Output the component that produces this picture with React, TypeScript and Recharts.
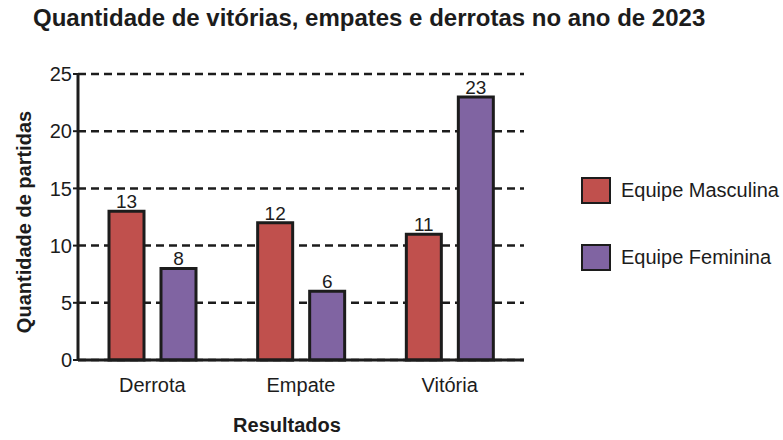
import { Bar, BarChart, CartesianGrid, LabelList, XAxis, YAxis } from 'recharts';

const categories = ['Derrota', 'Empate', 'Vitória'];
const masculina = [13, 12, 11];
const feminina = [8, 6, 23];
const yTicks = [0, 5, 10, 15, 20, 25];

const SERIES = [
  { key: 'masculina', name: 'Equipe Masculina', color: '#C0504D' },
  { key: 'feminina', name: 'Equipe Feminina', color: '#8064A2' },
];

const FONT = '"Liberation Sans", Arial, sans-serif';
const INK = '#1c1c1c';

const data = categories.map((c, i) => ({
  categoria: c,
  masculina: masculina[i],
  feminina: feminina[i],
}));

const YLabel = () => (
  <text
    x={24}
    y={222}
    transform="rotate(-90 24 222)"
    textAnchor="middle"
    dominantBaseline="central"
    fontFamily={FONT}
    fontWeight="bold"
    fontSize={20}
    fill={INK}
  >
    Quantidade de partidas
  </text>
);

const XLabel = () => (
  <text x={287} y={432} textAnchor="middle" fontFamily={FONT} fontWeight="bold" fontSize={20} fill={INK}>
    Resultados
  </text>
);

export default function App() {
  return (
    <div style={{ position: 'absolute', left: 0, top: 0, width: 783, height: 440, background: '#fff', fontFamily: FONT }}>
      <div
        style={{
          position: 'absolute',
          left: 33,
          top: 4,
          fontSize: 24,
          fontWeight: 'bold',
          color: INK,
          whiteSpace: 'nowrap',
        }}
      >
        Quantidade de vitórias, empates e derrotas no ano de 2023
      </div>
      <BarChart
        width={783}
        height={440}
        data={data}
        margin={{ top: 74, right: 259, left: 18, bottom: 30 }}
        barSize={35}
        barGap={17}
      >
        <CartesianGrid vertical={false} stroke={INK} strokeWidth={2.5} strokeDasharray="8 5" />
        <XAxis
          dataKey="categoria"
          height={50}
          tickSize={0}
          tickLine={false}
          tickMargin={18}
          axisLine={{ stroke: INK, strokeWidth: 3 }}
          tick={{ fill: INK, fontSize: 20, fontFamily: FONT }}
          label={<XLabel />}
        />
        <YAxis
          width={60}
          domain={[0, 25]}
          ticks={yTicks}
          tickSize={5}
          tickMargin={1}
          tickLine={{ stroke: INK, strokeWidth: 2 }}
          axisLine={{ stroke: INK, strokeWidth: 3 }}
          tick={{ fill: INK, fontSize: 20, fontFamily: FONT }}
          label={<YLabel />}
        />
        {SERIES.map((s) => (
          <Bar key={s.key} dataKey={s.key} name={s.name} fill={s.color} stroke={INK} strokeWidth={3} isAnimationActive={false}>
            <LabelList dataKey={s.key} position="top" offset={3} fill={INK} fontSize={19} fontFamily={FONT} />
          </Bar>
        ))}
      </BarChart>
      {SERIES.map((s, i) => (
        <div
          key={s.key}
          style={{ position: 'absolute', left: 581, top: 177 + i * 67, display: 'flex', alignItems: 'center', height: 27 }}
        >
          <div
            style={{
              width: 26,
              height: 23,
              background: s.color,
              border: `2.5px solid ${INK}`,
            }}
          />
          <span style={{ marginLeft: 10, fontSize: 20, color: INK }}>{s.name}</span>
        </div>
      ))}
    </div>
  );
}
